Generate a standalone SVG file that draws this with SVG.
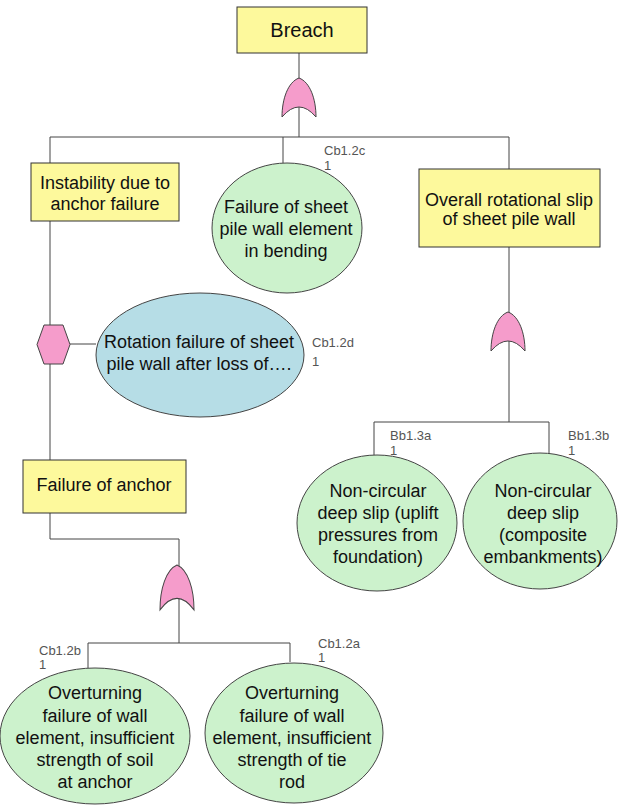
<svg xmlns="http://www.w3.org/2000/svg" width="620" height="805" viewBox="0 0 620 805">
<style>
.t{font-family:"Liberation Sans",Arial,sans-serif;font-size:18px;fill:#111;text-anchor:middle}
.lb{font-family:"Liberation Sans",Arial,sans-serif;font-size:13px;fill:#555}
.box{fill:#fdf99c;stroke:#333;stroke-width:1}
.grn{fill:#ccf2cc;stroke:#444;stroke-width:1}
.blu{fill:#b6dde6;stroke:#444;stroke-width:1}
.gate{fill:#f59ccb;stroke:#444;stroke-width:1}
.ln{fill:none;stroke:#444;stroke-width:1}
</style>
<defs>
<path id="orgate" d="M0,0 C-11,4 -17,21 -17,39 Q0,19 17,39 C17,21 11,4 0,0 Z"/>
</defs>
<rect width="620" height="805" fill="#fff"/>
<g id="connectors">
<path class="ln" d="M299,53 V137"/>
<path class="ln" d="M50,163 V137 H509 V169"/>
<path class="ln" d="M283,137 V163"/>
<path class="ln" d="M509,247 V422"/>
<path class="ln" d="M374,455 V422 H549 V461"/>
<path class="ln" d="M50,221 V460"/>
<path class="ln" d="M70,344 H96"/>
<path class="ln" d="M50,513 V539 H179 V643"/>
<path class="ln" d="M88,668 V643 H290 V662"/>
</g>
<g id="breach">
<rect class="box" x="237" y="7" width="130" height="46"/>
<text class="t" x="302" y="37" style="font-size:20px">Breach</text>
</g>
<g id="gate-top"><use href="#orgate" class="gate" transform="translate(299,78)"/></g>
<g id="instability">
<rect class="box" x="31" y="163" width="148" height="58"/>
<text class="t" x="105" y="189">Instability due to</text>
<text class="t" x="105" y="210">anchor failure</text>
</g>
<g id="cb12c">
<ellipse class="grn" cx="287" cy="228" rx="75" ry="65"/>
<text class="t" x="286" y="213">Failure of sheet</text>
<text class="t" x="286" y="235">pile wall element</text>
<text class="t" x="286" y="257">in bending</text>
<text class="lb" x="324" y="155">Cb1.2c</text>
<text class="lb" x="324" y="170">1</text>
</g>
<g id="overall">
<rect class="box" x="419" y="169" width="181" height="78"/>
<text class="t" x="509" y="206">Overall rotational slip</text>
<text class="t" x="509" y="225">of sheet pile wall</text>
</g>
<g id="gate-right"><use href="#orgate" class="gate" transform="translate(508,312)"/></g>
<g id="bb13a">
<ellipse class="grn" cx="377" cy="523" rx="80" ry="68"/>
<text class="t" x="378" y="497">Non-circular</text>
<text class="t" x="378" y="519">deep slip (uplift</text>
<text class="t" x="378" y="541">pressures from</text>
<text class="t" x="378" y="563">foundation)</text>
<text class="lb" x="390" y="440">Bb1.3a</text>
<text class="lb" x="390" y="455">1</text>
</g>
<g id="bb13b">
<ellipse class="grn" cx="540" cy="521" rx="77" ry="68"/>
<text class="t" x="543" y="497">Non-circular</text>
<text class="t" x="543" y="519">deep slip</text>
<text class="t" x="543" y="541">(composite</text>
<text class="t" x="543" y="563">embankments)</text>
<text class="lb" x="568" y="440">Bb1.3b</text>
<text class="lb" x="568" y="455">1</text>
</g>
<g id="hexagon">
<polygon class="gate" points="37,344.5 44,325 63,325 70,344.5 63,364 44,364"/>
</g>
<g id="cb12d">
<ellipse class="blu" cx="200" cy="355" rx="104" ry="62"/>
<text class="t" x="199" y="348">Rotation failure of sheet</text>
<text class="t" x="199" y="370">pile wall after loss of….</text>
<text class="lb" x="312" y="347">Cb1.2d</text>
<text class="lb" x="312" y="366">1</text>
</g>
<g id="anchor">
<rect class="box" x="23" y="460" width="163" height="53"/>
<text class="t" x="104" y="491">Failure of anchor</text>
</g>
<g id="gate-anchor"><use href="#orgate" class="gate" transform="translate(177,565) scale(1,1.15)"/></g>
<g id="cb12b">
<ellipse class="grn" cx="95" cy="736" rx="95" ry="68"/>
<text class="t" x="95" y="699">Overturning</text>
<text class="t" x="95" y="722">failure of wall</text>
<text class="t" x="95" y="744">element, insufficient</text>
<text class="t" x="95" y="766">strength of soil</text>
<text class="t" x="95" y="788">at anchor</text>
<text class="lb" x="39" y="655">Cb1.2b</text>
<text class="lb" x="39" y="669">1</text>
</g>
<g id="cb12a">
<ellipse class="grn" cx="294" cy="733" rx="89" ry="70"/>
<text class="t" x="292" y="699">Overturning</text>
<text class="t" x="292" y="722">failure of wall</text>
<text class="t" x="292" y="744">element, insufficient</text>
<text class="t" x="292" y="766">strength of tie</text>
<text class="t" x="292" y="788">rod</text>
<text class="lb" x="318" y="648">Cb1.2a</text>
<text class="lb" x="318" y="662">1</text>
</g>
</svg>
